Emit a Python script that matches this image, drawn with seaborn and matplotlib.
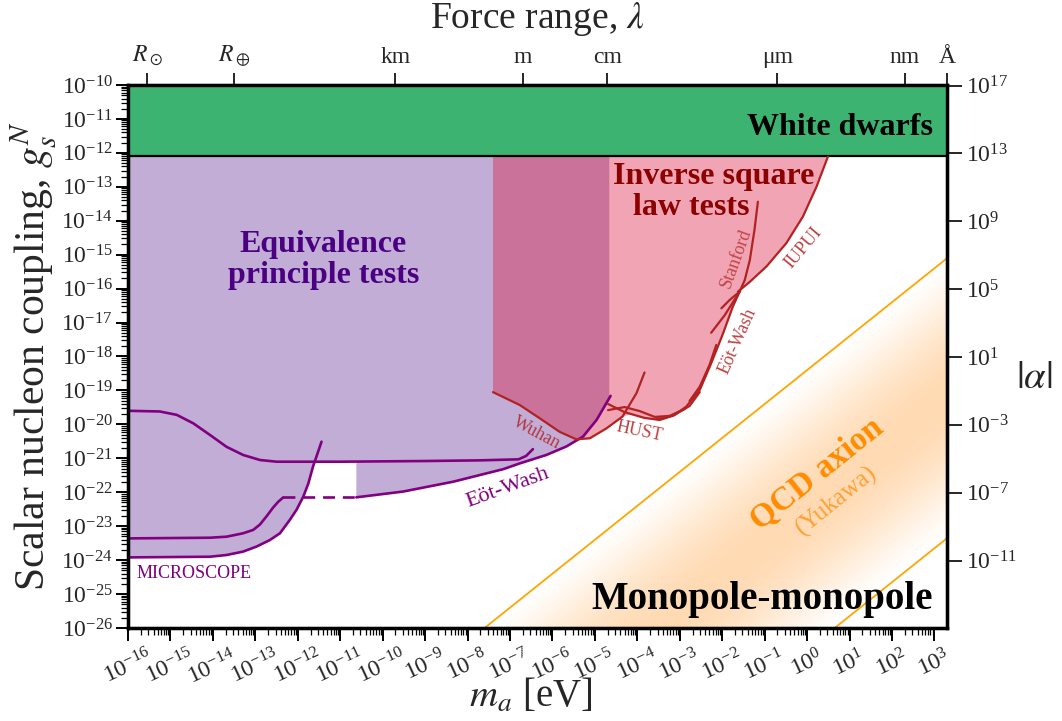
import numpy as np
import pandas as pd
import matplotlib
matplotlib.use("Agg")
import matplotlib.pyplot as plt
import seaborn as sns
from matplotlib.colors import LinearSegmentedColormap
from matplotlib.ticker import (FixedLocator, LogLocator, NullFormatter,
                               NullLocator, LogFormatterSciNotation)

# ---------------- data (log10 values) ----------------
x_lim_log = [-16.0, 3.2952]         # m_a [eV]
y_lim_log = [-26.0, -10.0]          # g_s^N
wd_log = -12.1                      # white-dwarf bound
alpha_offset_log = 37.03            # log|alpha| = 2 log g + offset

# MICROSCOPE (lower)
micro1_lx = [-16.0, -14.07, -13.68, -13.29, -12.97, -12.66, -12.42, -12.19,
             -12.03, -11.87, -11.75, -11.64, -11.56, -11.44]
micro1_lg = [-23.92, -23.90, -23.85, -23.75, -23.60, -23.41, -23.21, -22.82,
             -22.52, -22.13, -21.74, -21.24, -20.95, -20.51]
# MICROSCOPE (second)
micro2_lx = [-16.0, -14.07, -13.68, -13.29, -13.05, -12.89, -12.73, -12.58,
             -12.46, -12.34]
micro2_lg = [-23.36, -23.34, -23.31, -23.21, -23.11, -22.95, -22.70, -22.45,
             -22.28, -22.15]
# dashed connection
dash_lx = [-12.34, -10.62]
dash_lg = [-22.15, -22.15]
# upper EP curve
ep_up_lx = [-16.0, -15.25, -14.85, -14.46, -14.07, -13.68, -13.29, -12.89,
            -12.50, -11.0, -9.0, -7.7, -6.8, -6.62, -6.46]
ep_up_lg = [-19.60, -19.62, -19.72, -19.97, -20.31, -20.66, -20.90, -21.05,
            -21.10, -21.10, -21.08, -21.06, -21.03, -20.93, -20.73]
# Eot-Wash (equivalence principle)
ew_ep_lx = [-10.62, -9.52, -8.34, -7.16, -6.77, -6.14, -5.67, -5.28, -4.96, -4.63]
ew_ep_lg = [-22.15, -21.98, -21.69, -21.32, -21.15, -20.90, -20.65, -20.36,
            -19.87, -19.16]
ep_right_lx = -4.66

# inverse-square-law region boundary
isl_lx = [-7.40, -6.77, -6.30, -5.83, -5.44, -5.12, -4.73, -4.42, -4.13, -3.80,
          -3.52, -3.29, -3.05, -2.81, -2.53, -2.26, -1.98, -1.75, -1.59, -1.35,
          -0.96, -0.49, -0.10, 0.22, 0.49]
isl_lg = [-19.05, -19.43, -19.82, -20.22, -20.44, -20.41, -20.12, -19.81, -19.69,
          -19.81, -19.89, -19.84, -19.69, -19.43, -18.99, -18.20, -17.32, -16.53,
          -16.09, -15.80, -15.35, -14.66, -13.88, -13.00, -12.11]
# ISL experiments
wuhan_lx = [-7.40, -6.77, -6.30, -5.83, -5.44, -5.12, -4.73, -4.35, -4.02, -3.83]
wuhan_lg = [-19.05, -19.43, -19.82, -20.22, -20.44, -20.41, -20.12, -19.77,
            -19.08, -18.47]
hust1_lx = [-4.69, -4.30, -3.83, -3.47, -3.12, -2.77, -2.53]
hust1_lg = [-19.40, -19.64, -19.81, -19.87, -19.72, -19.46, -19.05]
hust2_lx = [-4.69, -4.30, -3.94, -3.59, -3.24, -2.89]
hust2_lg = [-19.58, -19.49, -19.61, -19.78, -19.75, -19.55]
ew_isl_lx = [-3.55, -3.16, -2.85, -2.53, -2.26, -1.98, -1.75, -1.59]
ew_isl_lg = [-19.84, -19.75, -19.48, -18.99, -18.20, -17.32, -16.53, -16.09]
ew_isl_b_lx = [-1.59, -1.94, -2.26]
ew_isl_b_lg = [-16.09, -16.78, -17.30]
ew_isl_c_lx = [-2.14, -2.30, -2.53, -2.77]
ew_isl_c_lg = [-17.66, -18.25, -18.89, -19.31]
stanford_lx = [-1.16, -1.24, -1.35, -1.47, -1.59, -1.83, -2.02]
stanford_lg = [-13.44, -14.27, -15.16, -15.75, -16.09, -16.34, -16.58]
iupui_lx = [-1.63, -1.35, -0.96, -0.49, -0.10, 0.22, 0.49]
iupui_lg = [-16.09, -15.80, -15.35, -14.66, -13.88, -13.00, -12.11]

# QCD axion (Yukawa) band edges
qcd_up_lx = [-7.60, 3.2952]
qcd_up_lg = [-26.0, -15.105]
qcd_lo_lx = [0.65, 3.2952]
qcd_lo_lg = [-26.0, -23.355]

# force range ticks (lambda in metres)
range_names = [r"$R_\odot$", r"$R_\oplus$", "km", "m", "cm", "μm", "nm", "Å"]
range_metres = [6.96e8, 6.371e6, 1e3, 1.0, 1e-2, 1e-6, 1e-9, 1e-10]
hbar_c = 1.973e-7  # eV m
alpha_ticks_log = [-11, -7, -3, 1, 5, 9, 13, 17]

# ---------------- style ----------------
sns.set_style("ticks")
plt.rcParams["font.family"] = ["Liberation Serif", "DejaVu Serif"]
plt.rcParams["mathtext.fontset"] = "stix"

P = lambda v: 10.0 ** np.asarray(v, dtype=float)

fig = plt.figure(figsize=(10.62, 7.21), dpi=100)
ax = fig.add_axes([0.1205, 0.129, 0.7712, 0.7531])
ax.set_xscale("log")
ax.set_yscale("log")
xlo, xhi = P(x_lim_log)
ylo, yhi = P(y_lim_log)
ax.set_xlim(xlo, xhi)
ax.set_ylim(ylo, yhi)

# QCD gradient band
gx = np.linspace(x_lim_log[0], x_lim_log[1], 700)
gy = np.linspace(y_lim_log[0], y_lim_log[1], 500)
GX, GY = np.meshgrid(gx, gy)
d_up = qcd_up_lg[1] - qcd_up_lx[1]
d_lo = qcd_lo_lg[1] - qcd_lo_lx[1]
t = ((GY - GX) - d_lo) / (d_up - d_lo)
Z = np.where((t > 0) & (t < 1), np.sin(np.pi * np.clip(t, 0, 1)) ** 1.3, 0.0)
cmap = LinearSegmentedColormap.from_list("peach", ["#ffffff", "#ffdab3"])
ax.pcolormesh(P(gx), P(gy), Z, cmap=cmap, vmin=0, vmax=1, shading="auto",
              rasterized=True, zorder=0.5)
sns.lineplot(x=P(qcd_up_lx), y=P(qcd_up_lg), ax=ax, color="orange", lw=1.3,
             sort=False, estimator=None, zorder=1.5)
sns.lineplot(x=P(qcd_lo_lx), y=P(qcd_lo_lg), ax=ax, color="orange", lw=1.3,
             sort=False, estimator=None, zorder=1.5)

# Equivalence principle region
ep_poly_lx = ([-16.0, ep_right_lx, ep_right_lx] + ew_ep_lx[::-1] +
              [ew_ep_lx[0], -11.60] + micro1_lx[:-3][::-1])
ep_poly_lg = ([y_lim_log[1], y_lim_log[1], ew_ep_lg[-1]] + ew_ep_lg[::-1] +
              [ep_up_lg[9], ep_up_lg[9]] + micro1_lg[:-3][::-1])
ax.fill(P(ep_poly_lx), P(ep_poly_lg), color="rebeccapurple", alpha=0.4,
        lw=0, zorder=1)

# Inverse square law region
isl_poly_lx = [isl_lx[0]] + isl_lx + [isl_lx[-1]]
isl_poly_lg = [y_lim_log[1]] + isl_lg + [y_lim_log[1]]
ax.fill(P(isl_poly_lx), P(isl_poly_lg), color="crimson", alpha=0.38,
        lw=0, zorder=2)

# White dwarfs
ax.fill_between([xlo, xhi], [P(wd_log)] * 2, [yhi] * 2,
                color="mediumseagreen", lw=0, zorder=3)
ax.axhline(P(wd_log), color="k", lw=1.6, zorder=3.1)

# lines
purple = "#800080"
red = "#b22222"
def line(lx, lg, c, lw=1.9, **kw):
    df = pd.DataFrame({"m": P(lx), "g": P(lg)})
    sns.lineplot(data=df, x="m", y="g", ax=ax, color=c, lw=lw, sort=False,
                 estimator=None, zorder=4, **kw)

line(micro1_lx, micro1_lg, purple)
line(micro2_lx, micro2_lg, purple)
line(ep_up_lx, ep_up_lg, purple)
line(ew_ep_lx, ew_ep_lg, purple)
ax.plot(P(dash_lx), P(dash_lg), color=purple, lw=1.9, ls=(0, (4.5, 3)), zorder=4)
for lx_, lg_ in [(wuhan_lx, wuhan_lg), (hust1_lx, hust1_lg), (hust2_lx, hust2_lg),
                 (ew_isl_lx, ew_isl_lg), (ew_isl_b_lx, ew_isl_b_lg),
                 (ew_isl_c_lx, ew_isl_c_lg), (stanford_lx, stanford_lg),
                 (iupui_lx, iupui_lg)]:
    line(lx_, lg_, red, lw=1.6)

# text labels
def T(lx, lg, s, **kw):
    ax.text(P(lx), P(lg), s, zorder=6, **kw)

T(2.955, -11.47, "White dwarfs", ha="right", va="baseline", fontsize=23,
  fontweight="bold", color="k")
T(-2.20, -12.92, "Inverse square", ha="center", va="baseline", fontsize=23,
  fontweight="bold", color="#8b0000")
T(-2.72, -13.83, "law tests", ha="center", va="baseline", fontsize=23,
  fontweight="bold", color="#8b0000")
T(-11.40, -14.91, "Equivalence", ha="center", va="baseline", fontsize=23,
  fontweight="bold", color="#4b0082")
T(-11.40, -15.84, "principle tests", ha="center", va="baseline", fontsize=23,
  fontweight="bold", color="#4b0082")
T(2.955, -25.45, "Monopole-monopole", ha="right", va="baseline", fontsize=28,
  fontweight="bold", color="k")
T(0.247, -21.46, "QCD axion", ha="center", va="center", fontsize=24,
  fontweight="bold", color="darkorange", rotation=38.7, rotation_mode="anchor")
T(0.694, -22.26, "(Yukawa)", ha="center", va="center", fontsize=18,
  color="#ffa033", rotation=38.7, rotation_mode="anchor")
T(-15.81, -24.38, "MICROSCOPE", ha="left", va="center", fontsize=13, color=purple)
T(-7.05, -21.87, "Eöt-Wash", ha="center", va="center", fontsize=16, color=purple,
  rotation=20, rotation_mode="anchor")
T(-6.37, -20.25, "Wuhan", ha="center", va="center", fontsize=13, color=red,
  alpha=0.85, rotation=-28, rotation_mode="anchor")
T(-3.94, -20.22, "HUST", ha="center", va="center", fontsize=13, color=red,
  alpha=0.85, rotation=-12, rotation_mode="anchor")
T(-1.684, -15.10, "Stanford", ha="center", va="center", fontsize=13, color=red,
  alpha=0.75, rotation=70, rotation_mode="anchor")
T(-1.637, -17.54, "Eöt-Wash", ha="center", va="center", fontsize=13, color=red,
  alpha=0.85, rotation=66, rotation_mode="anchor")
T(-0.083, -14.79, "IUPUI", ha="center", va="center", fontsize=13, color=red,
  alpha=0.85, rotation=50, rotation_mode="anchor")

# axes, ticks
ax.xaxis.set_major_locator(FixedLocator(P(np.arange(-16, 4))))
ax.xaxis.set_major_formatter(LogFormatterSciNotation())
ax.xaxis.set_minor_locator(LogLocator(base=10, subs=np.arange(2, 10), numticks=100))
ax.xaxis.set_minor_formatter(NullFormatter())
ax.yaxis.set_major_locator(FixedLocator(P(np.arange(-26, -9))))
ax.yaxis.set_major_formatter(LogFormatterSciNotation())
ax.yaxis.set_minor_locator(LogLocator(base=10, subs=np.arange(2, 10), numticks=100))
ax.yaxis.set_minor_formatter(NullFormatter())
ax.tick_params(which="major", direction="out", length=9, width=1.4,
               labelsize=17, color="k")
ax.tick_params(which="minor", direction="out", length=5, width=0.9, color="k")
ax.tick_params(axis="x", which="major", labelrotation=25, pad=4)
ax.tick_params(axis="y", which="major", pad=2)
ax.set_xlabel(r"$m_a$ [eV]", fontsize=28)
ax.xaxis.set_label_coords(0.492, -0.126)
ax.xaxis.label.set_verticalalignment("center")
ax.set_ylabel(r"Scalar nucleon coupling, $g_s^N$", fontsize=30, labelpad=2)

ax2 = ax.twiny()
ax2.set_xscale("log")
ax2.set_xlim(xlo, xhi)
ax2.xaxis.set_major_locator(FixedLocator(hbar_c / np.array(range_metres)))
ax2.set_xticklabels(range_names)
ax2.xaxis.set_minor_locator(NullLocator())
ax2.tick_params(axis="x", which="major", direction="out", length=9, width=1.4,
                labelsize=17, pad=3)
ax2.set_xlabel(r"Force range, $\lambda$", fontsize=27, labelpad=11)

ax3 = ax.twinx()
ax3.set_yscale("log")
ax3.set_ylim(P(2 * y_lim_log[0] + alpha_offset_log),
             P(2 * y_lim_log[1] + alpha_offset_log))
ax3.yaxis.set_major_locator(FixedLocator(P(alpha_ticks_log)))
ax3.yaxis.set_major_formatter(LogFormatterSciNotation())
ax3.yaxis.set_minor_locator(NullLocator())
ax3.tick_params(axis="y", which="major", direction="out", length=11, width=1.4,
                labelsize=17, pad=3)
ax3.set_ylabel(r"$|\alpha|$", fontsize=28, rotation=0)
ax3.yaxis.set_label_coords(1.107, 0.46)
ax3.yaxis.label.set_verticalalignment("center")
ax3.yaxis.label.set_horizontalalignment("center")

for a in (ax, ax2, ax3):
    for s in a.spines.values():
        s.set_linewidth(2.3)
        s.set_color("k")
        s.set_visible(True)

fig.savefig("out.png", dpi=100)
